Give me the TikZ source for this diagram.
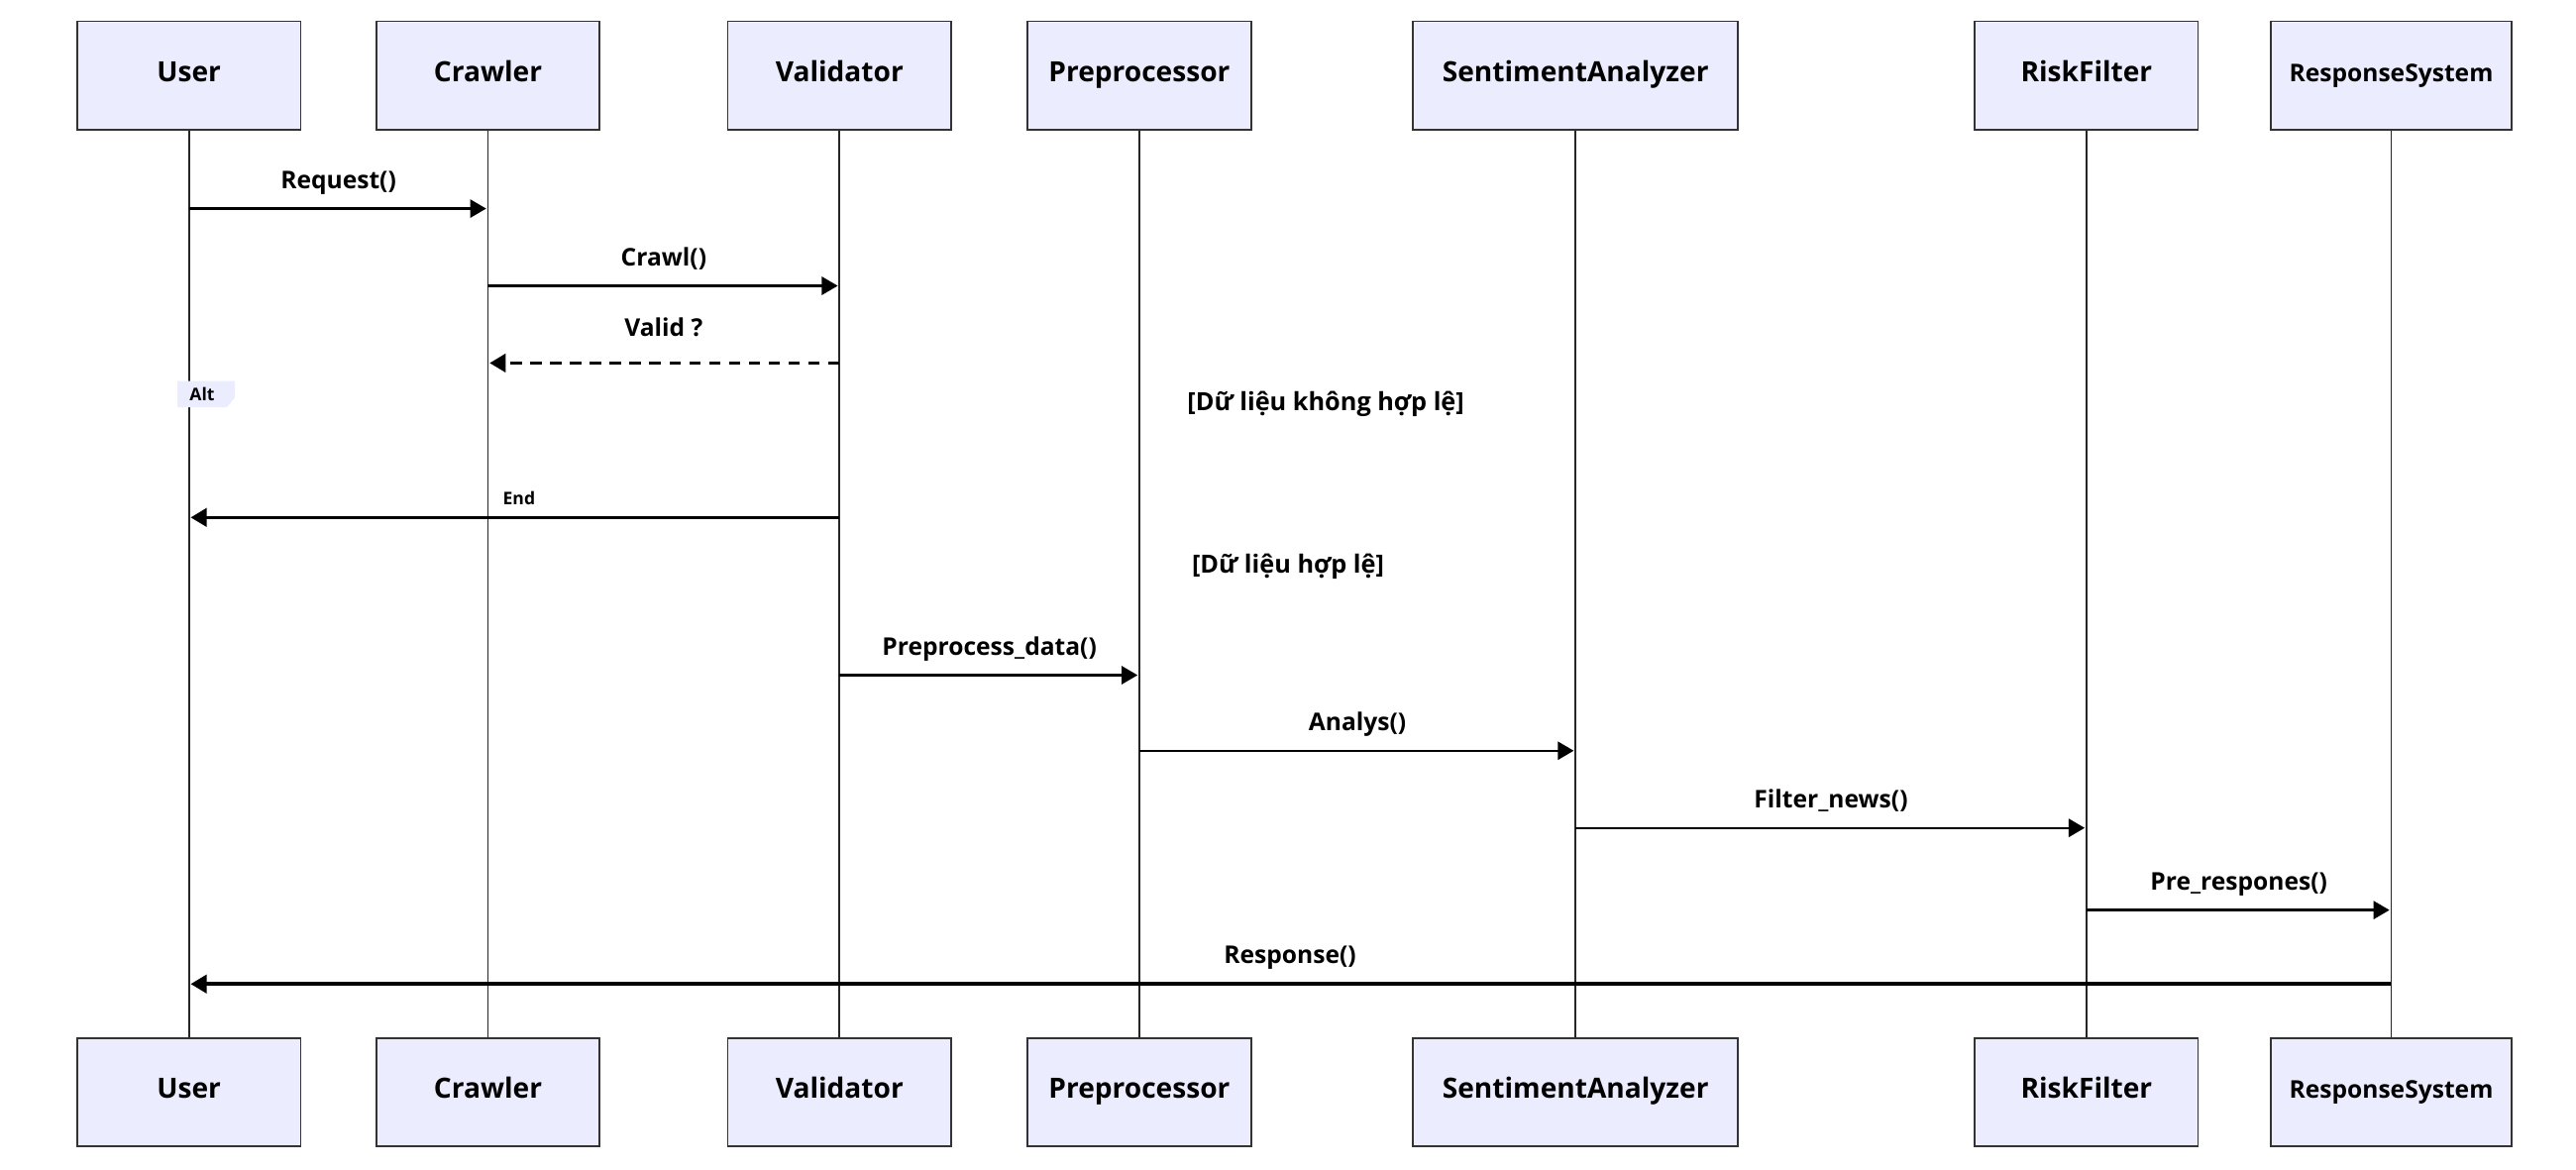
\documentclass[tikz,border=0pt]{standalone}
\usepackage{fontspec}
\setmainfont{Open Sans}
\usetikzlibrary{arrows.meta,positioning,calc}
\definecolor{actorfill}{HTML}{ECECFF}
\definecolor{actorline}{HTML}{333333}

\begin{document}
\begin{tikzpicture}[x=0.01658cm, y=-0.01658cm,
  actor/.style={draw=actorline, line width=0.5pt, fill=actorfill, minimum height=1.094cm, minimum width=2.255cm, text height=1.6ex, text depth=0.95ex, font=\bfseries\fontsize{8}{9}\selectfont},
  life/.style={draw=black!85, line width=0.55pt},
  msg/.style={line width=0.65pt, shorten >=0.5pt, -{Triangle[length=4.6pt,width=5.2pt]}},
  reply/.style={msg, line width=1pt, dash pattern=on 3.3pt off 2.4pt},
  bigmsg/.style={msg, line width=1pt},
  lbl/.style={midway, above=-0.3pt, text height=1.7ex, text depth=0.45ex, font=\bfseries\fontsize{7}{8}\selectfont},
  guard/.style={font=\bfseries\fontsize{7.2}{9}\selectfont},
  tag/.style={font=\bfseries\fontsize{5}{6}\selectfont, inner sep=0pt}]

\useasboundingbox (0,0) rectangle (1568,712);

% participants (top)
\node[actor] (userT) at (115,46) {User};
\node[actor] (crawlerT) at (297,46) {Crawler};
\node[actor] (validT) at (511,46) {Validator};
\node[actor] (prepT) at (693.5,46) {Preprocessor};
\node[actor, minimum width=3.283cm] (sentT) at (959,46) {SentimentAnalyzer};
\node[actor] (riskT) at (1270,46) {RiskFilter};
\node[actor, minimum width=2.437cm, font=\bfseries\fontsize{7}{8}\selectfont] (respT) at (1455.5,46) {ResponseSystem};

% participants (bottom)
\node[actor] (userB) at (115,665) {User};
\node[actor] (crawlerB) at (297,665) {Crawler};
\node[actor] (validB) at (511,665) {Validator};
\node[actor] (prepB) at (693.5,665) {Preprocessor};
\node[actor, minimum width=3.283cm] (sentB) at (959,665) {SentimentAnalyzer};
\node[actor] (riskB) at (1270,665) {RiskFilter};
\node[actor, minimum width=2.437cm, font=\bfseries\fontsize{7}{8}\selectfont] (respB) at (1455.5,665) {ResponseSystem};

% lifelines
\draw[life] (userT) -- (userB);
\draw[life] (crawlerT) -- (crawlerB);
\draw[life] (validT) -- (validB);
\draw[life] (prepT) -- (prepB);
\draw[life] (sentT) -- (sentB);
\draw[life] (riskT) -- (riskB);
\draw[life] (respT) -- (respB);

% message rows
\coordinate (rowReq) at (0,127);
\coordinate (rowCrawl) at (0,174);
\coordinate (rowValid) at (0,221);
\coordinate (rowEnd) at (0,315);
\coordinate (rowPrep) at (0,411);
\coordinate (rowAna) at (0,457);
\coordinate (rowFilt) at (0,504);
\coordinate (rowPre) at (0,554);
\coordinate (rowResp) at (0,599);

\draw[msg] (userT |- rowReq) -- (crawlerT |- rowReq) node[lbl] {Request()};
\draw[msg] (crawlerT |- rowCrawl) -- (validT |- rowCrawl) node[lbl] {Crawl()};
\draw[reply] (validT |- rowValid) -- (crawlerT |- rowValid) node[lbl, above=1.5pt] {Valid ?};

% alt block
\fill[actorfill] (108,232) -- (143,232) -- (143,242) -- (138,248) -- (108,248) -- cycle;
\node[tag] (altTag) at (123,240) {Alt};
\node[guard] (guardBad) at (807,246) {[Dữ liệu không hợp lệ]};
\draw[bigmsg] (validT |- rowEnd) -- (userT |- rowEnd) node[tag, pos=0.52, anchor=south west, yshift=3pt] {End};
\node[guard] (guardOk) at (784,345) {[Dữ liệu hợp lệ]};

\draw[msg] (validT |- rowPrep) -- (prepT |- rowPrep) node[lbl] {Preprocess\_data()};
\draw[msg] (prepT |- rowAna) -- (sentT |- rowAna) node[lbl] {Analys()};
\draw[msg] (sentT |- rowFilt) -- (riskT |- rowFilt) node[lbl] {Filter\_news()};
\draw[msg] (riskT |- rowPre) -- (respT |- rowPre) node[lbl] {Pre\_respones()};
\draw[bigmsg] (respT |- rowResp) -- (userT |- rowResp) node[lbl] {Response()};
\end{tikzpicture}
\end{document}
